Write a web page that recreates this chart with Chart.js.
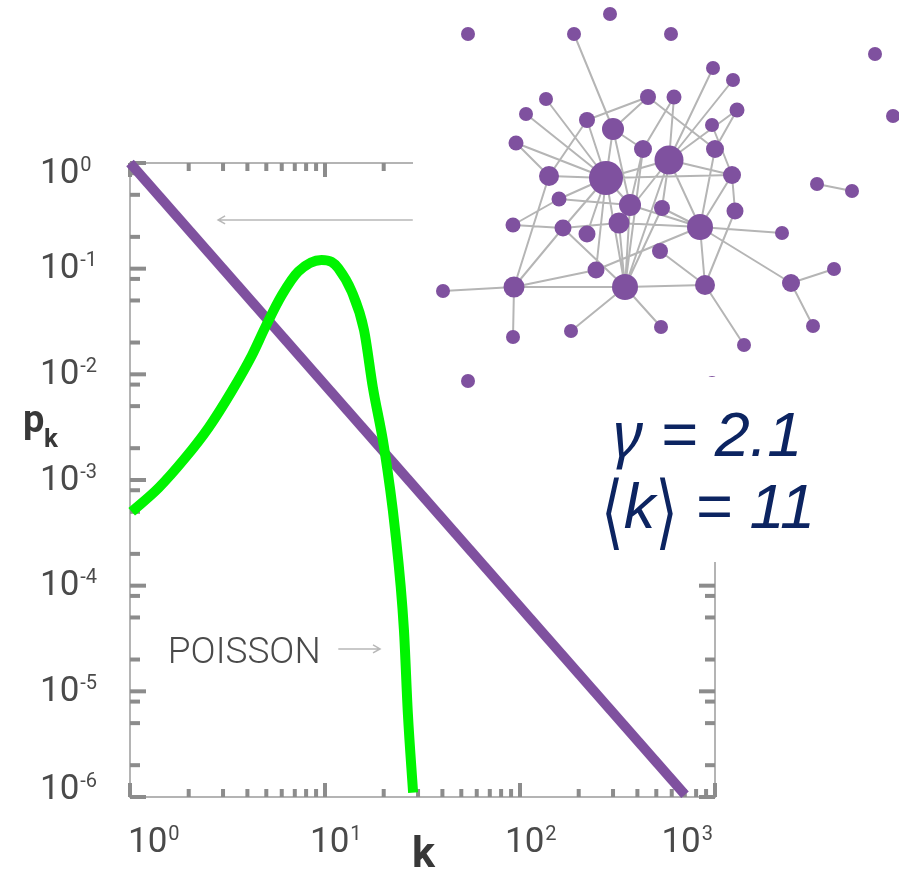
<!DOCTYPE html>
<html>
<head>
<meta charset="utf-8">
<script src="https://cdn.jsdelivr.net/npm/chart.js@4.4.0/dist/chart.umd.min.js"></script>
<style>
  html, body { margin: 0; padding: 0; background: #fff; }
  #wrap { position: relative; width: 899px; height: 869px; overflow: hidden; }
  #main { position: absolute; left: 0; top: 0; }
  #netBox { position: absolute; left: 413px; top: 0; width: 486px; height: 392px; background: #fff; }
  #stats { position: absolute; left: 585px; top: 377px; width: 314px; height: 185px; background: #fff;
           color: #0c2461; font-family: "Liberation Sans", Arial, sans-serif; font-style: italic; font-size: 63px; }
  #stats div { position: absolute; white-space: nowrap; line-height: 63px; }
  #stats .br { font-family: "DejaVu Sans", sans-serif; font-style: normal; font-size: 58px; display: inline-block;
               transform: scaleY(1.4) translateY(2px); }
  #stats .g { font-family: "Noto Sans", sans-serif; }
</style>
</head>
<body>
<div id="wrap">
  <canvas id="main" width="899" height="869"></canvas>
  <div id="netBox"><canvas id="net" width="486" height="392"></canvas></div>
  <div id="stats">
    <div style="left:28px; top:23px;"><span class="g">γ</span> = 2.1</div>
    <div style="left:16px; top:98px;"><span class="br">⟨</span>k<span class="br">⟩</span> = 11</div>
  </div>
</div>
<script>
// power law p_k ~ k^-2.1 (end points)
const kPower = [1, 702];
const pPower = [1, 1.05e-6];

// Poisson curve
const kPoisson = [1.02, 1.4, 1.91, 2.52, 3.32, 4.21, 4.92, 6.0, 7.3, 9.6, 10.8, 11.7, 13.7, 15.85, 17.6, 20.07, 22.86, 25.4, 26.6, 28.3];
const pPoisson = [5.0e-4, 8.4e-4, 1.6e-3, 3.1e-3, 6.9e-3, 1.5e-2, 2.75e-2, 5.6e-2, 9.4e-2, 0.121, 0.116, 0.101, 0.061, 0.0263, 7.5e-3, 2.05e-3, 3.4e-4, 3.8e-5, 6.2e-6, 1.1e-6];

// axis ticks
const xDecades = [0, 1, 2, 3];
const yDecades = [0, -1, -2, -3, -4, -5, -6];
const xMinor = [2, 3, 4, 5, 6, 7, 8, 9];
const yMinor = [2, 5, 8];

// network sketch (node layout + degree-like size)
const nodeX = [55, 197, 161, 258, 462, 480, 300, 320, 324, 235, 261, 133, 113, 174, 200, 299, 103, 230, 256, 302,
               136, 193, 319, 404, 439, 146, 217, 249, 322, 100, 150, 174, 206, 287, 369, 247, 183, 421, 30, 101,
               212, 292, 378, 100, 158, 248, 400, 331, 55, 299];
const nodeY = [34, 14, 34, 34, 54, 116, 68, 80, 110, 97, 97, 99, 114, 120, 129, 125, 143, 149, 160, 149,
               176, 178, 175, 184, 191, 199, 205, 208, 211, 225, 228, 234, 223, 227, 233, 251, 270, 269, 291, 287,
               287, 285, 283, 337, 331, 327, 326, 345, 381, 383];
const nodeR = [7, 7, 7, 7, 7, 7, 7, 7, 7.5, 8, 7.5, 7, 7, 8, 11, 7, 7.5, 9, 14.5, 9,
               10, 17, 9, 7, 7, 7.5, 11, 8, 8.5, 7.5, 8.5, 8.5, 10.5, 13, 7, 8, 8.5, 7, 7, 10.5,
               13, 10, 9, 7, 7, 7, 7, 7, 7, 7];
const linkA = [2, 9, 9, 9, 10, 10, 6, 7, 8, 8, 11, 12, 16, 16, 13, 13, 14, 14, 14, 15, 17, 18, 18, 18, 18, 18, 19,
               20, 20, 21, 21, 21, 21, 21, 21, 23, 22, 22, 25, 26, 26, 27, 27, 28, 29, 29, 30, 30, 30, 32, 32,
               33, 33, 33, 33, 35, 37, 42, 38, 39, 39, 39, 40, 40, 40, 41, 31, 17, 18];
const linkB = [14, 13, 14, 19, 17, 18, 18, 18, 18, 19, 21, 21, 21, 20, 20, 21, 21, 17, 26, 22, 26, 21, 22, 33, 40, 32, 33,
               21, 39, 22, 30, 25, 40, 36, 26, 24, 28, 33, 26, 33, 40, 33, 40, 41, 30, 25, 32, 39, 40, 33, 40,
               34, 41, 42, 36, 41, 42, 46, 39, 40, 43, 36, 41, 44, 45, 47, 21, 40, 27];

const purple = '#7f519f';

function drawPower(ctx, exp, x0, base) {
  ctx.font = '35px Roboto';
  ctx.fillText('10', x0, base);
  const w = ctx.measureText('10').width;
  ctx.font = '20px Roboto';
  ctx.fillText(String(exp), x0 + w + 1, base - 12);
}
function powerWidth(ctx, exp) {
  ctx.font = '35px Roboto';
  const w = ctx.measureText('10').width;
  ctx.font = '20px Roboto';
  return w + 1 + ctx.measureText(String(exp)).width;
}

function arrow(ctx, x1, x2, y, dir) {
  ctx.beginPath();
  ctx.moveTo(x1, y); ctx.lineTo(x2, y);
  const tip = dir < 0 ? x1 : x2;
  ctx.moveTo(tip - dir * 7, y - 4); ctx.lineTo(tip, y); ctx.lineTo(tip - dir * 7, y + 4);
  ctx.stroke();
}

const frame = {
  id: 'frame',
  beforeDatasetsDraw(chart) {
    const {ctx, chartArea: a, scales: {x, y}} = chart;
    ctx.save();
    ctx.strokeStyle = '#b4b4b4';
    ctx.lineWidth = 2;
    ctx.strokeRect(a.left, a.top, a.right - a.left, a.bottom - a.top);
    ctx.fillStyle = '#8c8c8c';
    xDecades.forEach(d => {
      const list = d < 3 ? [1, ...xMinor] : [1];
      list.forEach(m => {
        const px = x.getPixelForValue(m * Math.pow(10, d));
        const len = m === 1 ? 14 : 8;
        ctx.fillRect(px - 2, a.bottom - len, 4, len);
        ctx.fillRect(px - 2, a.top, 4, len);
      });
    });
    yDecades.forEach(d => {
      const list = d > -6 ? [[1, d], ...yMinor.map(m => [m, d - 1])] : [[1, d]];
      list.forEach(([m, e]) => {
        const py = y.getPixelForValue(m * Math.pow(10, e));
        const len = m === 1 ? 16 : 10;
        ctx.fillRect(a.left, py - 2, len, 4);
        ctx.fillRect(a.right - len, py - 2, len, 4);
      });
    });
    // annotation arrows
    ctx.strokeStyle = '#b8b8b8';
    ctx.lineWidth = 1.5;
    arrow(ctx, x.getPixelForValue(2.83), x.getPixelForValue(28.2), y.getPixelForValue(0.289), -1);
    arrow(ctx, x.getPixelForValue(11.7), x.getPixelForValue(19.15), y.getPixelForValue(2.52e-5), 1);
    ctx.restore();
  },
  afterDatasetsDraw(chart) {
    const {ctx, chartArea: a, scales: {x, y}} = chart;
    ctx.save();
    ctx.fillStyle = '#4a4a4a';
    ctx.textBaseline = 'alphabetic';
    xDecades.forEach(d => {
      const w = powerWidth(ctx, d);
      const px = x.getPixelForValue(Math.pow(10, d));
      const x0 = Math.min(Math.max(px - 15, a.left - 2), a.right - w - 2);
      drawPower(ctx, d, x0, a.bottom + 55);
    });
    yDecades.forEach(d => {
      const py = y.getPixelForValue(Math.pow(10, d));
      const c = Math.min(Math.max(py - 3, a.top + 7), a.bottom - 11);
      drawPower(ctx, d, 40, c + 12.5);
    });
    ctx.font = '300 37px Roboto';
    ctx.fillText('POISSON', x.getPixelForValue(1.6) - 2, y.getPixelForValue(1.85e-5));
    ctx.fillStyle = '#383838';
    ctx.font = 'bold 38px Roboto';
    ctx.fillText('p', 23, 432);
    ctx.font = 'bold 26px Roboto';
    ctx.fillText('k', 44, 447);
    ctx.font = 'bold 43px Roboto';
    ctx.fillText('k', 412, 867);
    ctx.restore();
  }
};

new Chart(document.getElementById('main'), {
  type: 'line',
  data: {
    datasets: [
      {
        label: 'Poisson',
        data: kPoisson.map((k, i) => ({x: k, y: pPoisson[i]})),
        borderColor: '#00f400',
        borderWidth: 10,
        pointRadius: 0,
        cubicInterpolationMode: 'monotone',
        borderCapStyle: 'butt',
        clip: false,
        order: 0
      },
      {
        label: 'Power law',
        data: kPower.map((k, i) => ({x: k, y: pPower[i]})),
        borderColor: purple,
        borderWidth: 10,
        pointRadius: 0,
        borderCapStyle: 'butt',
        clip: false,
        order: 1
      }
    ]
  },
  options: {
    responsive: false,
    animation: false,
    devicePixelRatio: 1,
    layout: {autoPadding: false, padding: {left: 130, top: 163, right: 184, bottom: 72}},
    plugins: {legend: {display: false}, tooltip: {enabled: false}},
    scales: {
      x: {type: 'logarithmic', min: 1, max: 1000, display: false},
      y: {type: 'logarithmic', min: 1e-6, max: 1, display: false}
    }
  },
  plugins: [frame]
});

// network sketch
const edgePts = [];
linkA.forEach((a, i) => {
  const b = linkB[i];
  edgePts.push({x: nodeX[a], y: nodeY[a]}, {x: nodeX[b], y: nodeY[b]}, {x: nodeX[b], y: null});
});

new Chart(document.getElementById('net'), {
  type: 'bubble',
  data: {
    datasets: [
      {
        label: 'nodes',
        data: nodeX.map((v, i) => ({x: v, y: nodeY[i], r: nodeR[i]})),
        backgroundColor: purple,
        borderWidth: 0,
        hoverRadius: 0,
        clip: false,
        order: 0
      },
      {
        type: 'line',
        label: 'links',
        data: edgePts,
        borderColor: '#b5b5b5',
        borderWidth: 2,
        pointRadius: 0,
        spanGaps: false,
        order: 1
      }
    ]
  },
  options: {
    responsive: false,
    animation: false,
    devicePixelRatio: 1,
    layout: {autoPadding: false, padding: 0},
    plugins: {legend: {display: false}, tooltip: {enabled: false}},
    scales: {
      x: {type: 'linear', min: 0, max: 486, display: false},
      y: {type: 'linear', min: 0, max: 392, reverse: true, display: false}
    }
  }
});
</script>
</body>
</html>
